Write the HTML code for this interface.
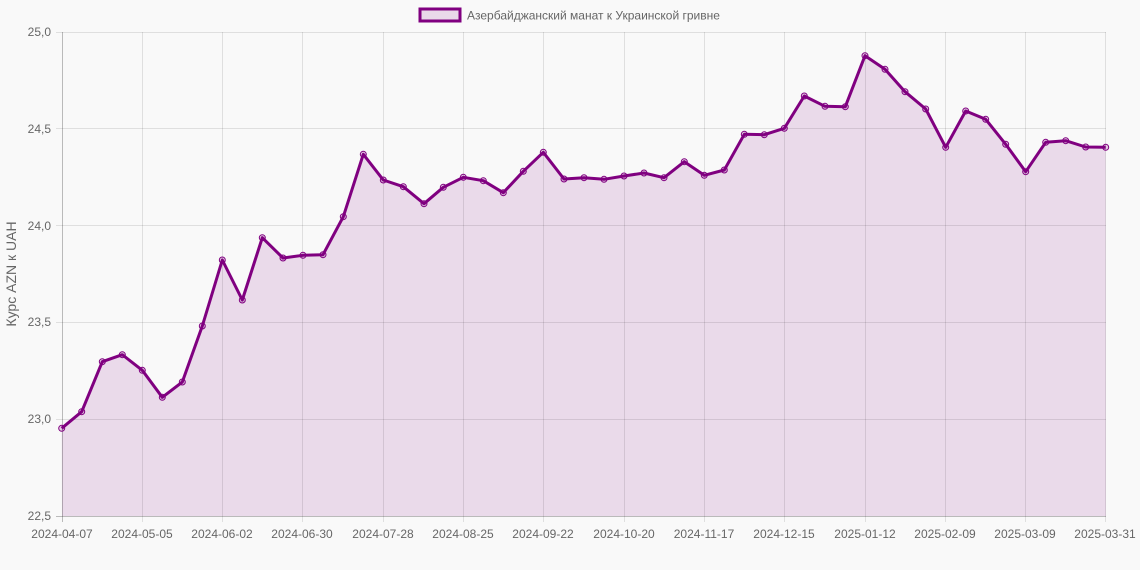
<!DOCTYPE html>
<html><head><meta charset="utf-8"><style>
html,body{margin:0;padding:0;background:#f9f9f9;}
svg{display:block;font-family:"Liberation Sans",Arial,sans-serif;}
</style></head><body>
<svg width="1140" height="570" viewBox="0 0 1140 570" xmlns="http://www.w3.org/2000/svg">
<rect width="1140" height="570" fill="#f9f9f9"/>
<!-- legend -->
<rect x="420" y="9" width="40" height="12" fill="#e9d9e9" stroke="#800080" stroke-width="3"/>
<text x="467" y="19.5" font-size="12" fill="#666">Азербайджанский манат к Украинской гривне</text>
<!-- fill -->
<polygon fill="rgba(128,0,128,0.12)" points="62,516 61.7,428.3 81.7,411.7 102.3,361.7 122.3,354.7 142.3,370.3 162.3,397.3 182.3,382 202.3,326 222.3,260 242.3,300 262.3,237.7 283,258 303,255.3 323,254.7 343.3,216.7 363.3,154.3 383.3,180 403.3,186.7 424,203.7 443.3,187.3 463.3,177.3 483.3,180.7 503.3,192.7 523.3,171.3 543.3,152.3 564,179 584,177.7 604,179.3 624,176 644,173 664,177.7 684.3,161.7 704.3,175.3 724.3,170 744.3,134.3 764.3,134.7 784.3,128.3 804.3,96 825,106.3 845.3,106.7 865,55.7 885,69.3 905,91.7 925.7,109 945.7,147.3 965.7,111 985.7,119.3 1005.7,144.3 1025.7,171.7 1045.7,142.3 1065.7,140.7 1085.7,147 1105.7,147.3 1106,516"/>
<!-- grid -->
<g stroke="rgba(0,0,0,0.1)" stroke-width="1">
<line x1="56" y1="32.5" x2="1106" y2="32.5"/>
<line x1="56" y1="128.5" x2="1106" y2="128.5"/>
<line x1="56" y1="225.5" x2="1106" y2="225.5"/>
<line x1="56" y1="322.5" x2="1106" y2="322.5"/>
<line x1="56" y1="419.5" x2="1106" y2="419.5"/>
<line x1="142.5" y1="32" x2="142.5" y2="522"/>
<line x1="222.5" y1="32" x2="222.5" y2="522"/>
<line x1="302.5" y1="32" x2="302.5" y2="522"/>
<line x1="383.5" y1="32" x2="383.5" y2="522"/>
<line x1="463.5" y1="32" x2="463.5" y2="522"/>
<line x1="543.5" y1="32" x2="543.5" y2="522"/>
<line x1="624.5" y1="32" x2="624.5" y2="522"/>
<line x1="704.5" y1="32" x2="704.5" y2="522"/>
<line x1="784.5" y1="32" x2="784.5" y2="522"/>
<line x1="865.5" y1="32" x2="865.5" y2="522"/>
<line x1="945.5" y1="32" x2="945.5" y2="522"/>
<line x1="1025.5" y1="32" x2="1025.5" y2="522"/>
<line x1="1105.5" y1="32" x2="1105.5" y2="522"/>
</g>
<g stroke="rgba(0,0,0,0.25)" stroke-width="1">
<line x1="62.5" y1="32" x2="62.5" y2="522"/>
<line x1="56" y1="516.5" x2="1106" y2="516.5"/>
</g>
<!-- y ticks -->
<g font-size="12" fill="#666" text-anchor="end">
<text x="51" y="36">25,0</text>
<text x="51" y="133">24,5</text>
<text x="51" y="230">24,0</text>
<text x="51" y="326">23,5</text>
<text x="51" y="423">23,0</text>
<text x="51" y="520">22,5</text>
</g>
<text transform="translate(16,274) rotate(-90)" font-size="14" fill="#666" text-anchor="middle">Курс AZN к UAH</text>
<!-- x ticks -->
<g font-size="12" fill="#666" text-anchor="middle">
<text x="62" y="538">2024-04-07</text>
<text x="142" y="538">2024-05-05</text>
<text x="222" y="538">2024-06-02</text>
<text x="302" y="538">2024-06-30</text>
<text x="383" y="538">2024-07-28</text>
<text x="463" y="538">2024-08-25</text>
<text x="543" y="538">2024-09-22</text>
<text x="624" y="538">2024-10-20</text>
<text x="704" y="538">2024-11-17</text>
<text x="784" y="538">2024-12-15</text>
<text x="865" y="538">2025-01-12</text>
<text x="945" y="538">2025-02-09</text>
<text x="1025" y="538">2025-03-09</text>
<text x="1105" y="538">2025-03-31</text>
</g>
<!-- line -->
<polyline fill="none" stroke="#800080" stroke-width="3" stroke-linejoin="round" points="61.7,428.3 81.7,411.7 102.3,361.7 122.3,354.7 142.3,370.3 162.3,397.3 182.3,382 202.3,326 222.3,260 242.3,300 262.3,237.7 283,258 303,255.3 323,254.7 343.3,216.7 363.3,154.3 383.3,180 403.3,186.7 424,203.7 443.3,187.3 463.3,177.3 483.3,180.7 503.3,192.7 523.3,171.3 543.3,152.3 564,179 584,177.7 604,179.3 624,176 644,173 664,177.7 684.3,161.7 704.3,175.3 724.3,170 744.3,134.3 764.3,134.7 784.3,128.3 804.3,96 825,106.3 845.3,106.7 865,55.7 885,69.3 905,91.7 925.7,109 945.7,147.3 965.7,111 985.7,119.3 1005.7,144.3 1025.7,171.7 1045.7,142.3 1065.7,140.7 1085.7,147 1105.7,147.3"/>
<!-- points -->
<g fill="rgba(128,0,128,0.18)" stroke="#800080" stroke-width="1">
<circle cx="61.7" cy="428.3" r="3"/><circle cx="81.7" cy="411.7" r="3"/><circle cx="102.3" cy="361.7" r="3"/><circle cx="122.3" cy="354.7" r="3"/><circle cx="142.3" cy="370.3" r="3"/><circle cx="162.3" cy="397.3" r="3"/><circle cx="182.3" cy="382" r="3"/><circle cx="202.3" cy="326" r="3"/><circle cx="222.3" cy="260" r="3"/><circle cx="242.3" cy="300" r="3"/><circle cx="262.3" cy="237.7" r="3"/><circle cx="283" cy="258" r="3"/><circle cx="303" cy="255.3" r="3"/><circle cx="323" cy="254.7" r="3"/><circle cx="343.3" cy="216.7" r="3"/><circle cx="363.3" cy="154.3" r="3"/><circle cx="383.3" cy="180" r="3"/><circle cx="403.3" cy="186.7" r="3"/><circle cx="424" cy="203.7" r="3"/><circle cx="443.3" cy="187.3" r="3"/><circle cx="463.3" cy="177.3" r="3"/><circle cx="483.3" cy="180.7" r="3"/><circle cx="503.3" cy="192.7" r="3"/><circle cx="523.3" cy="171.3" r="3"/><circle cx="543.3" cy="152.3" r="3"/><circle cx="564" cy="179" r="3"/><circle cx="584" cy="177.7" r="3"/><circle cx="604" cy="179.3" r="3"/><circle cx="624" cy="176" r="3"/><circle cx="644" cy="173" r="3"/><circle cx="664" cy="177.7" r="3"/><circle cx="684.3" cy="161.7" r="3"/><circle cx="704.3" cy="175.3" r="3"/><circle cx="724.3" cy="170" r="3"/><circle cx="744.3" cy="134.3" r="3"/><circle cx="764.3" cy="134.7" r="3"/><circle cx="784.3" cy="128.3" r="3"/><circle cx="804.3" cy="96" r="3"/><circle cx="825" cy="106.3" r="3"/><circle cx="845.3" cy="106.7" r="3"/><circle cx="865" cy="55.7" r="3"/><circle cx="885" cy="69.3" r="3"/><circle cx="905" cy="91.7" r="3"/><circle cx="925.7" cy="109" r="3"/><circle cx="945.7" cy="147.3" r="3"/><circle cx="965.7" cy="111" r="3"/><circle cx="985.7" cy="119.3" r="3"/><circle cx="1005.7" cy="144.3" r="3"/><circle cx="1025.7" cy="171.7" r="3"/><circle cx="1045.7" cy="142.3" r="3"/><circle cx="1065.7" cy="140.7" r="3"/><circle cx="1085.7" cy="147" r="3"/><circle cx="1105.7" cy="147.3" r="3"/>
</g>
</svg>
</body></html>
